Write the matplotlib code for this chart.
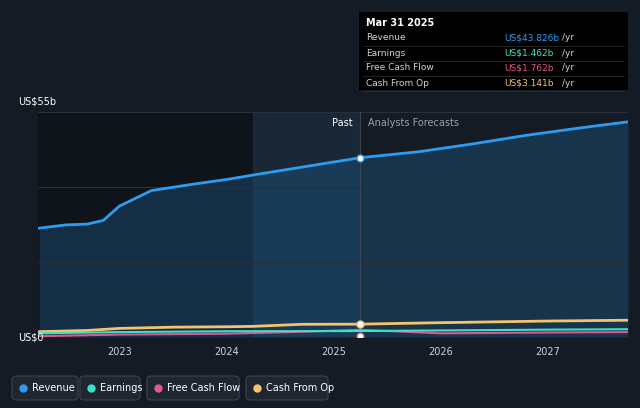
import matplotlib.pyplot as plt
from matplotlib.patches import FancyBboxPatch

# data (US$ billions)
rev_x = [2022.25, 2022.5, 2022.7, 2022.85, 2023.0, 2023.3, 2023.7, 2024.0, 2024.25, 2024.7, 2025.25,
         2025.8, 2026.3, 2026.8, 2027.3, 2027.75]
rev_y = [26.6, 27.4, 27.6, 28.5, 32.0, 35.8, 37.4, 38.5, 39.6, 41.5, 43.826,
         45.3, 47.2, 49.3, 51.1, 52.6]
earn_x = [2022.25, 2023.0, 2024.0, 2025.25, 2026.0, 2027.0, 2027.75]
earn_y = [0.9, 1.2, 1.4, 1.462, 1.6, 1.8, 1.9]
fcf_x = [2022.25, 2023.0, 2024.0, 2024.6, 2025.25, 2026.0, 2027.0, 2027.75]
fcf_y = [0.2, 0.6, 0.8, 1.2, 1.762, 0.9, 1.1, 1.2]
cfo_x = [2022.25, 2022.7, 2023.0, 2023.5, 2024.0, 2024.25, 2024.7, 2025.25, 2026.0, 2027.0, 2027.75]
cfo_y = [1.3, 1.6, 2.1, 2.4, 2.5, 2.6, 3.1, 3.141, 3.5, 3.9, 4.1]

bg = '#151b24'
fig = plt.figure(figsize=(6.4, 4.08), dpi=100, facecolor=bg)
ax = fig.add_axes([38/640, 1-337/408, 590/640, 225/408])
ax.set_facecolor(bg)
ax.set_xlim(2022.24, 2027.75)
ax.set_ylim(0, 55)
for s in ax.spines.values():
    s.set_visible(False)
ax.tick_params(left=False, bottom=False, labelleft=False, colors='#cfd3da', labelsize=7)
ax.set_xticks([2023, 2024, 2025, 2026, 2027])
ax.set_xticklabels(['2023', '2024', '2025', '2026', '2027'])
for g in [55/3, 110/3, 55]:
    ax.axhline(g, color='#2a313c', lw=0.8)

ax.axvspan(2022.24, 2025.25, color='#0f141b', zorder=0)
ax.axvspan(2024.25, 2025.25, color='#1a2737', zorder=0)
ax.axvline(2025.25, color='#3a4350', lw=0.8)
ax.fill_between(rev_x, rev_y, color='#1c5a86', alpha=0.4, lw=0)
ax.plot(rev_x, rev_y, color='#2d9cf0', lw=2)
ax.plot(cfo_x, cfo_y, color='#f6c36b', lw=2)
ax.plot(fcf_x, fcf_y, color='#e0578e', lw=1.5)
ax.plot(earn_x, earn_y, color='#3fe0c8', lw=1.5)
for y, c in [(43.826, '#2d9cf0'), (3.141, '#f6c36b'), (0.2, '#e0578e')]:
    ax.plot(2025.25, y, 'o', ms=5, mfc='white', mec=c, zorder=5)

ax.text(2025.18, 53.5, 'Past', color='white', fontsize=7, ha='right', va='top')
ax.text(2025.32, 53.5, 'Analysts Forecasts', color='#9aa1ab', fontsize=7, ha='left', va='top')
fig.text(18/640, 1-102/408, 'US$55b', color='white', fontsize=7, va='center')
fig.text(18/640, 1-337/408, 'US$0', color='white', fontsize=7, va='center')

# tooltip
fig.patches.append(FancyBboxPatch((359/640, 1-90/408), 269/640, 78/408, boxstyle='square,pad=0',
                                  transform=fig.transFigure, fc='black', ec='none'))
fig.text(366/640, 1-23/408, 'Mar 31 2025', color='white', fontsize=7, va='center', weight='bold')
rows = [('Revenue', 'US$43.826b', '#2d9cf0'), ('Earnings', 'US$1.462b', '#3fe0c8'),
        ('Free Cash Flow', 'US$1.762b', '#e0578e'), ('Cash From Op', 'US$3.141b', '#f6c36b')]
for i, (n, v, c) in enumerate(rows):
    yy = 1 - (38 + 15 * i) / 408
    fig.text(366/640, yy, n, color='#cfd3da', fontsize=6.5, va='center')
    fig.text(504/640, yy, v, color=c, fontsize=6.5, va='center')
    fig.text(562/640, yy, '/yr', color='#cfd3da', fontsize=6.5, va='center')
    fig.add_artist(plt.Line2D([363/640, 624/640], [yy - 7.5/408] * 2, color='#333', lw=0.5))

# legend
items = [('Revenue', '#2d9cf0', 12, 66), ('Earnings', '#3fe0c8', 80, 60), ('Free Cash Flow', '#e0578e', 147, 92),
         ('Cash From Op', '#f6c36b', 246, 82)]
for n, c, x0, w in items:
    fig.patches.append(FancyBboxPatch((x0/640, 1-400/408), w/640, 24/408,
                                      boxstyle='round,pad=0,rounding_size=0.008',
                                      transform=fig.transFigure, fc='#1f2630', ec='#3a4350', lw=0.8))
    fig.add_artist(plt.Line2D([(x0 + 11)/640], [1-388/408], marker='o', ms=5, color=c))
    fig.text((x0 + 20)/640, 1-388/408, n, color='white', fontsize=7, va='center')

fig.savefig('out.png', dpi=100, facecolor=bg)
